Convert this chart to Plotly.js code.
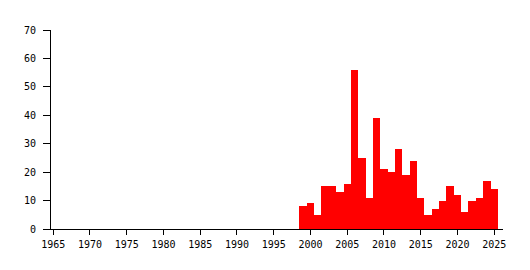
<!DOCTYPE html>
<html><head><meta charset="utf-8">
<script src="https://cdn.plot.ly/plotly-3.0.1.min.js"></script>
<style>html,body{margin:0;padding:0;background:#fff}#c{width:530px;height:270px}</style>
</head><body><div id="c"></div>
<script>
const years = [1999,2000,2001,2002,2003,2004,2005,2006,2007,2008,2009,2010,2011,2012,2013,2014,2015,2016,2017,2018,2019,2020,2021,2022,2023,2024,2025];
const counts = [8,9,5,15,15,13,16,56,25,11,39,21,20,28,19,24,11,5,7,10,15,12,6,10,11,17,14];
const xTicks = [1965,1970,1975,1980,1985,1990,1995,2000,2005,2010,2015,2020,2025];
const yTicks = [0,10,20,30,40,50,60,70];

const font = {family: 'DejaVu Sans Mono, monospace', size: 10, color: '#000'};
Plotly.newPlot('c', [{
  type: 'bar', x: years, y: counts, width: 1,
  marker: {color: '#ff0000', line: {width: 0}},
  hoverinfo: 'none'
}], {
  width: 530, height: 270,
  margin: {l: 51, r: 27, t: 30, b: 41},
  paper_bgcolor: '#fff', plot_bgcolor: '#fff',
  font: font,
  bargap: 0,
  showlegend: false,
  xaxis: {range: [1964.7, 2026.2], tickvals: xTicks, ticktext: xTicks.map(String),
    showgrid: false, zeroline: false, showline: true, linecolor: '#000', linewidth: 1,
    ticks: 'outside', ticklen: 5, tickcolor: '#000', tickfont: font, ticklabelstandoff: 1},
  yaxis: {range: [0, 70], tickvals: yTicks, ticktext: yTicks.map(String),
    showgrid: false, zeroline: false, showline: true, linecolor: '#000', linewidth: 1,
    ticks: 'outside', ticklen: 7, tickcolor: '#000', tickfont: font, ticklabelstandoff: 5}
}, {staticPlot: true, displayModeBar: false});
</script></body></html>
